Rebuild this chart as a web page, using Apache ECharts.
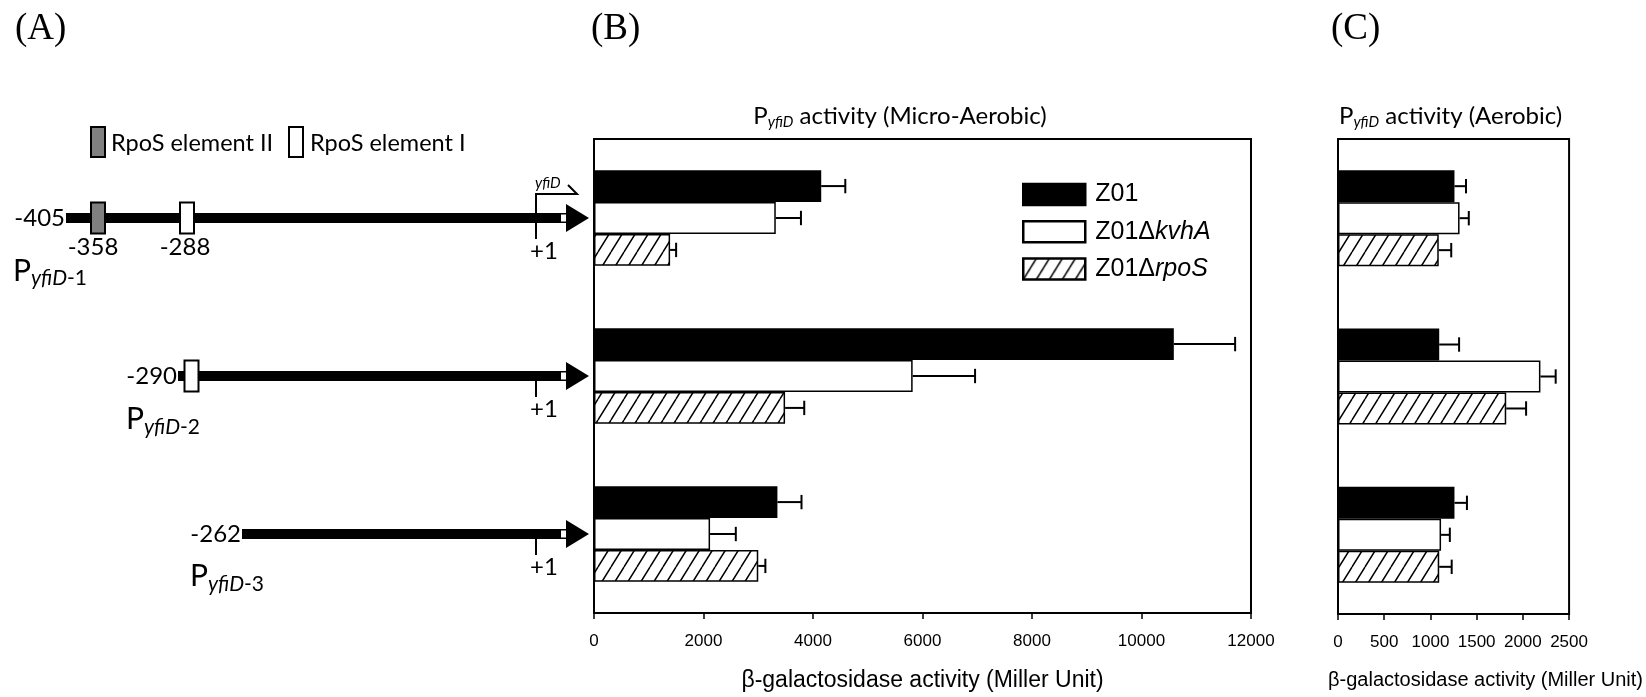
<!DOCTYPE html>
<html><head><meta charset="utf-8">
<script src="https://cdn.jsdelivr.net/npm/echarts@6/dist/echarts.min.js"></script>
<style>html,body{margin:0;padding:0;background:#fff}#c{width:1646px;height:697px}</style>
</head><body><div id="c"></div>
<script>
// ---------- data ----------
const constructs = ['PyfiD-1', 'PyfiD-2', 'PyfiD-3'];
const strains = ['Z01', 'Z01ΔkvhA', 'Z01ΔrpoS'];
// (B) micro-aerobic, Miller units
const microZ01 = [4150, 10590, 3350];
const microZ01Err = [440, 1120, 440];
const microKvhA = [3320, 5820, 2120];
const microKvhAErr = [460, 1140, 470];
const microRpoS = [1390, 3490, 3000];
const microRpoSErr = [110, 350, 130];
// (C) aerobic, Miller units
const aeroZ01 = [1260, 1095, 1260];
const aeroZ01Err = [125, 215, 135];
const aeroKvhA = [1315, 2190, 1115];
const aeroKvhAErr = [100, 165, 95];
const aeroRpoS = [1090, 1820, 1095];
const aeroRpoSErr = [135, 215, 135];
// axes
const microMax = 12000, microStep = 2000;
const aeroMax = 2500, aeroStep = 500;
// schematic labels (panel A)
const startLabels = ['-405', '-290', '-262'];
const row1ElementLabels = ['-358', '-288'];
const axisName = 'β-galactosidase activity (Miller Unit)';

// ---------- styling ----------
const GAP = 0.394;
function hatchPattern() {
  const c = document.createElement('canvas');
  c.width = 13; c.height = 21;
  const g = c.getContext('2d');
  g.fillStyle = '#fff'; g.fillRect(0, 0, 13, 21);
  g.strokeStyle = '#000'; g.lineWidth = 1.5;
  g.beginPath();
  for (const dx of [-13, 0, 13]) { g.moveTo(dx, 21); g.lineTo(dx + 13, 0); }
  g.stroke();
  return c;
}
const hatch = { image: hatchPattern(), repeat: 'repeat' };
const fills = ['#000', '#fff', hatch];

const chart = echarts.init(document.getElementById('c'), null, { renderer: 'canvas' });

function errRender(params, api) {
  const v = api.value(0), e = api.value(1), cat = api.value(2), k = api.value(3);
  const p0 = api.coord([v, cat]), p1 = api.coord([v + e, cat]);
  const band = api.size([0, 1])[1];
  const bw = band * (1 - GAP) / 3;
  const y = p0[1] + (k - 1) * bw;
  const cap = bw * 0.45;
  const st = { stroke: '#000', lineWidth: 2 };
  return { type: 'group', children: [
    { type: 'line', shape: { x1: p0[0], y1: y, x2: p1[0], y2: y }, style: st },
    { type: 'line', shape: { x1: p1[0], y1: y - cap / 2, x2: p1[0], y2: y + cap / 2 }, style: st }
  ]};
}
function errData(groups) {
  const out = [];
  groups.forEach((g, k) => g[0].forEach((v, i) => out.push([v, g[1][i], i, k])));
  return out;
}
function barSeries(name, data, k, ax) {
  return { type: 'bar', name, data, xAxisIndex: ax, yAxisIndex: ax,
    barCategoryGap: (GAP * 100) + '%', barGap: '0%',
    itemStyle: { color: fills[k], borderColor: '#000', borderWidth: 1.5 } };
}
function xAxisCfg(grid, max, step, labelFont, nameFont, namePad) {
  return { gridIndex: grid, type: 'value', min: 0, max, interval: step,
    axisLine: { show: true, lineStyle: { color: '#000', width: 2 } },
    axisTick: { show: true, length: 6, lineStyle: { color: '#000', width: 1.5 } },
    axisLabel: { color: '#000', fontFamily: 'Liberation Sans', fontSize: labelFont, margin: 20,
      formatter: v => String(v) },
    splitLine: { show: false },
    name: axisName, nameLocation: 'middle', nameGap: 56,
    nameTextStyle: { color: '#000', fontFamily: 'Liberation Sans', fontSize: nameFont, padding: namePad } };
}
function yAxisCfg(grid) {
  return { gridIndex: grid, type: 'category', data: constructs, inverse: true,
    axisLine: { show: false }, axisTick: { show: false }, axisLabel: { show: false } };
}

chart.setOption({
  animation: false,
  backgroundColor: '#fff',
  grid: [
    { left: 594, width: 657, top: 139, height: 475, show: true, borderColor: '#000', borderWidth: 2 },
    { left: 1338, width: 248, top: 139, height: 475, show: true, borderColor: '#000', borderWidth: 2 }
  ],
  xAxis: [xAxisCfg(0, microMax, microStep, 17, 23, [0, 0, 0, 0]),
          xAxisCfg(1, aeroMax, aeroStep, 17, 20, [0, 0, 0, 64])],
  yAxis: [yAxisCfg(0), yAxisCfg(1)],
  legend: {
    orient: 'vertical', left: 1017, top: 177, itemWidth: 62, itemHeight: 21, itemGap: 12.3,
    icon: 'rect', data: strains, selectedMode: false,
    itemStyle: { borderColor: '#000', borderWidth: 2.5 },
    textStyle: { color: '#000', fontFamily: 'Liberation Sans', fontSize: 25, padding: [0, 0, 0, 5],
      rich: { n: { fontFamily: 'Liberation Sans', fontSize: 25, color: '#000' },
              i: { fontFamily: 'Liberation Sans', fontSize: 25, fontStyle: 'italic', color: '#000' } } },
    formatter: n => n.indexOf('Δ') > 0 ? '{n|' + n.slice(0, 4) + '}{i|' + n.slice(4) + '}' : '{n|' + n + '}'
  },
  series: [
    barSeries(strains[0], microZ01, 0, 0),
    barSeries(strains[1], microKvhA, 1, 0),
    barSeries(strains[2], microRpoS, 2, 0),
    barSeries(strains[0], aeroZ01, 0, 1),
    barSeries(strains[1], aeroKvhA, 1, 1),
    barSeries(strains[2], aeroRpoS, 2, 1),
    { type: 'custom', xAxisIndex: 0, yAxisIndex: 0, renderItem: errRender, z: 5, clip: false,
      encode: { x: 0, y: 2 },
      data: errData([[microZ01, microZ01Err], [microKvhA, microKvhAErr], [microRpoS, microRpoSErr]]) },
    { type: 'custom', xAxisIndex: 1, yAxisIndex: 1, renderItem: errRender, z: 5, clip: false,
      encode: { x: 0, y: 2 },
      data: errData([[aeroZ01, aeroZ01Err], [aeroKvhA, aeroKvhAErr], [aeroRpoS, aeroRpoSErr]]) }
  ]
});

// ---------- panel A schematic + titles ----------
const rowY = constructs.map(c => chart.convertToPixel({ yAxisIndex: 0 }, c));
const lineStartX = [66, 178, 242];
const pLabelX = [13, 126, 190];
const pLabelDy = [38, 28.7, 27.4];
const ARROW_BASE = 566, ARROW_TIP = 589, TSS_X = 536;
const LATO = 'Lato';
const g = [];
function txt(x, y, text, size, opts) {
  return { type: 'text', x, y, style: Object.assign({ text, fontSize: size, fontFamily: LATO, fill: '#000', align: 'left', verticalAlign: 'middle' }, opts || {}) };
}
function box(x, y, fill) {
  return { type: 'rect', shape: { x, y, width: 14, height: 31 }, style: { fill, stroke: '#000', lineWidth: 2 }, z: 10 };
}
rowY.forEach((cy, i) => {
  g.push({ type: 'rect', shape: { x: lineStartX[i], y: cy - 5, width: ARROW_BASE - lineStartX[i], height: 10 }, style: { fill: '#000' } });
  g.push({ type: 'rect', shape: { x: ARROW_BASE - 5, y: cy - 3.5, width: 5, height: 7 }, style: { fill: '#fff' }, z: 11 });
  g.push({ type: 'polygon', shape: { points: [[ARROW_BASE, cy - 14], [ARROW_TIP, cy], [ARROW_BASE, cy + 14]] }, style: { fill: '#000' } });
  g.push(txt(lineStartX[i] - 1, cy, startLabels[i], 24, { align: 'right' }));
  if (i === 0) {
    g.push({ type: 'polyline', shape: { points: [[TSS_X, cy + 21], [TSS_X, cy - 24], [TSS_X + 41, cy - 24], [TSS_X + 32, cy - 33]] }, style: { stroke: '#000', lineWidth: 2, fill: null }, z: 12 });
    g.push(txt(TSS_X - 1, cy - 35, 'yfiD', 15, { fontStyle: 'italic' }));
  } else {
    g.push({ type: 'line', shape: { x1: TSS_X, y1: cy, x2: TSS_X, y2: cy + 21 }, style: { stroke: '#000', lineWidth: 2 }, z: 12 });
  }
  g.push(txt(TSS_X + 8, cy + 33, '+1', 24, { align: 'center' }));
  g.push({ type: 'text', x: pLabelX[i], y: cy + pLabelDy[i], style: {
    text: '{p|P}{s|yfiD}{n|-' + (i + 1) + '}', fill: '#000', align: 'left', verticalAlign: 'top',
    rich: { p: { fontFamily: LATO, fontSize: 30, lineHeight: 30, verticalAlign: 'top' },
            s: { fontFamily: LATO, fontSize: 21, fontStyle: 'italic', lineHeight: 45 },
            n: { fontFamily: LATO, fontSize: 21, lineHeight: 45 } } } });
});
// row 1 elements
const cy0 = rowY[0];
g.push(box(91, cy0 - 15.5, '#808080'));
g.push(box(180, cy0 - 15.5, '#fff'));
g.push(txt(93, cy0 + 29, row1ElementLabels[0], 24, { align: 'center' }));
g.push(txt(185, cy0 + 29, row1ElementLabels[1], 24, { align: 'center' }));
// row 2 element
g.push(box(184.5, rowY[1] - 15.5, '#fff'));
// element legend
g.push({ type: 'rect', shape: { x: 91, y: 127, width: 14, height: 30 }, style: { fill: '#808080', stroke: '#000', lineWidth: 2 } });
g.push(txt(111, 143, 'RpoS element II', 23.5));
g.push({ type: 'rect', shape: { x: 289, y: 127, width: 14, height: 30 }, style: { fill: '#fff', stroke: '#000', lineWidth: 2 } });
g.push(txt(310, 143, 'RpoS element I', 23.5));
// panel letters
[['(A)', 15], ['(B)', 591], ['(C)', 1331]].forEach(([t, x]) =>
  g.push(txt(x, 29, t, 37, { fontFamily: 'Liberation Serif' })));
// panel titles
function title(x, align, rest) {
  return { type: 'text', x, y: 104, style: {
    text: '{p|P}{s|yfiD}{p| ' + rest + '}', fill: '#000', align, verticalAlign: 'top',
    rich: { p: { fontFamily: LATO, fontSize: 24, lineHeight: 24, verticalAlign: 'top' },
            s: { fontFamily: LATO, fontSize: 15, fontStyle: 'italic', lineHeight: 37 } } } };
}
g.push(title(900, 'center', 'activity (Micro-Aerobic)'));
g.push(title(1339, 'left', 'activity (Aerobic)'));

chart.setOption({ graphic: g });
</script></body></html>
